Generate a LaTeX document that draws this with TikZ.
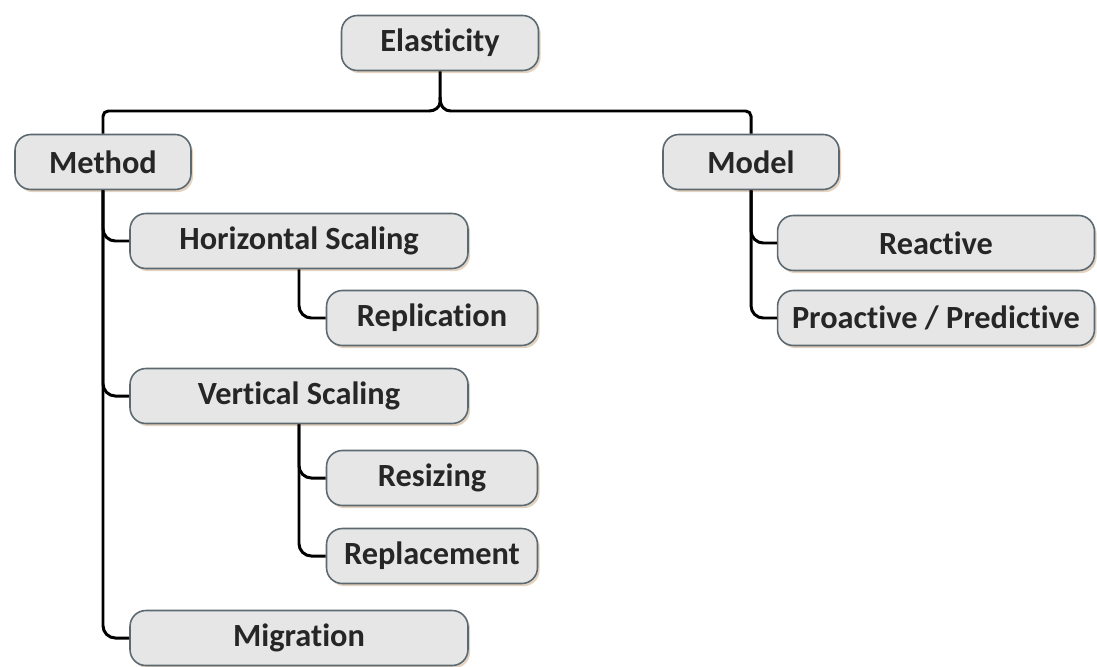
\documentclass[tikz,border=0pt]{standalone}
\usepackage{fontspec}
\setmainfont[Ligatures=NoCommon]{Carlito}
\usetikzlibrary{shadows,calc}
\definecolor{boxfill}{HTML}{E6E6E6}
\definecolor{boxline}{HTML}{5C6970}
\tikzset{
  box/.style={draw=boxline, line width=0.9pt, fill=boxfill, rounded corners=9pt,
    minimum height=1.1cm, inner sep=0pt,
    drop shadow={shadow xshift=1.2pt, shadow yshift=-1.5pt, opacity=0.35, fill=orange!40!gray},
    font=\fontsize{18.4}{21}\selectfont\bfseries, text=black!85},
  wA/.style={minimum width=3.94cm},
  wB/.style={minimum width=3.52cm},
  wC/.style={minimum width=6.76cm},
  wD/.style={minimum width=4.22cm},
  wE/.style={minimum width=6.34cm},
  conn/.style={line width=1.7pt, black, rounded corners=7pt},
}
\begin{document}
\begin{tikzpicture}[x=0.02cm,y=-0.02cm]
\useasboundingbox (0,0) rectangle (1097,666);
\node[box,wA] (elast) at (440,43) {Elasticity};
\node[box,wB] (method) at (103,162) {Method};
\node[box,wB] (model) at (751,162) {Model};
\node[box,wC] (hs) at (299,241) {Horizontal Scaling};
\node[box,wD] (repl) at (432,318) {Replication};
\node[box,wC] (vs) at (299,396) {Vertical Scaling};
\node[box,wD] (resz) at (432,478) {Resizing};
\node[box,wD] (repm) at (432,556) {Replacement};
\node[box,wC] (migr) at (299,638) {Migration};
\node[box,wE] (react) at (936,243) {Reactive};
\node[box,wE] (proact) at (936,318) {Proactive / Predictive};

\coordinate (bar) at (440,111);
\draw[conn, rounded corners=3pt] (method.north) |- ($(bar)+(-16,0)$)
   .. controls ($(bar)+(-5,0)$) and ($(bar)+(0,-4)$) .. ($(bar)+(0,-14)$) -- (elast.south);
\draw[conn, rounded corners=3pt] (model.north) |- ($(bar)+(16,0)$)
   .. controls ($(bar)+(5,0)$) and ($(bar)+(0,-4)$) .. ($(bar)+(0,-14)$);
\draw[conn] (method.south) |- (hs.west);
\draw[conn] (method.south) |- (vs.west);
\draw[conn] (method.south) |- (migr.west);
\draw[conn] (hs.south) |- (repl.west);
\draw[conn] (vs.south) |- (resz.west);
\draw[conn] (vs.south) |- (repm.west);
\draw[conn] (model.south) |- (react.west);
\draw[conn] (model.south) |- (proact.west);
\end{tikzpicture}
\end{document}
